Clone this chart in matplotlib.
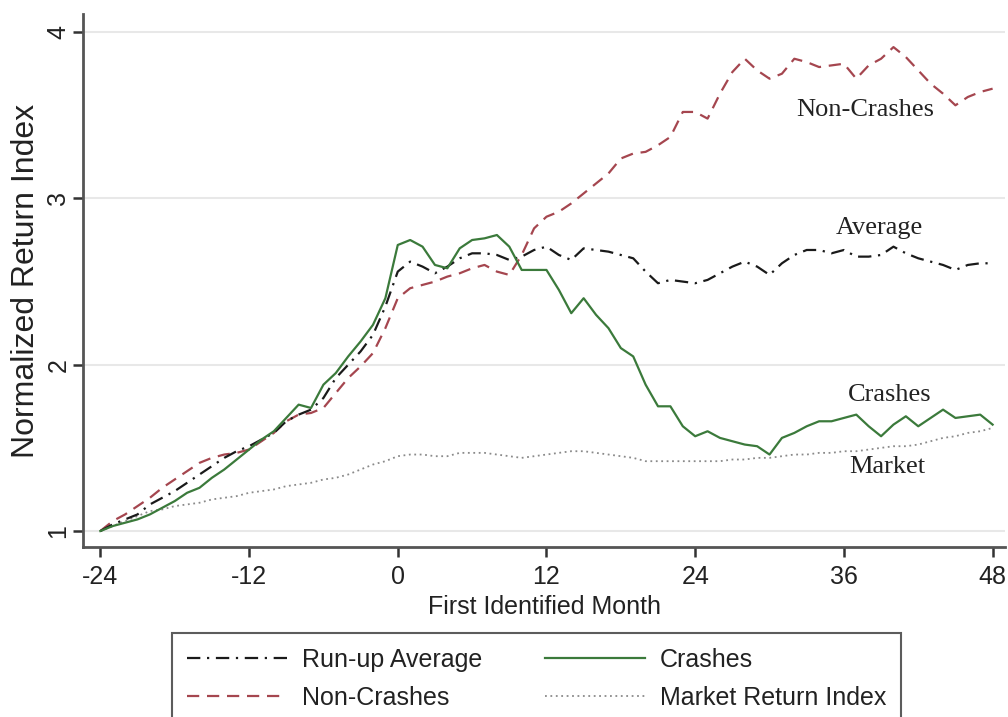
import matplotlib.pyplot as plt

months = list(range(-24, 49))

runup_average = [1.00, 1.04, 1.07, 1.10, 1.16, 1.20, 1.24, 1.29, 1.34, 1.39, 1.44, 1.48,
                 1.51, 1.55, 1.59, 1.66, 1.70, 1.73, 1.80, 1.92, 2.00, 2.08, 2.18, 2.35,
                 2.56, 2.62, 2.59, 2.55, 2.59, 2.64, 2.67, 2.67, 2.66, 2.63, 2.65, 2.69,
                 2.71, 2.66, 2.63, 2.70, 2.69, 2.68, 2.66, 2.64, 2.56, 2.49, 2.51, 2.50,
                 2.49, 2.51, 2.55, 2.59, 2.62, 2.59, 2.54, 2.61, 2.66, 2.69, 2.69, 2.67,
                 2.69, 2.65, 2.65, 2.66, 2.71, 2.67, 2.64, 2.62, 2.60, 2.57, 2.60, 2.61, 2.61]

non_crashes = [1.00, 1.06, 1.10, 1.15, 1.20, 1.26, 1.31, 1.36, 1.41, 1.44, 1.46, 1.47,
               1.49, 1.54, 1.59, 1.66, 1.70, 1.71, 1.74, 1.83, 1.92, 1.99, 2.07, 2.22,
               2.40, 2.46, 2.48, 2.50, 2.53, 2.55, 2.58, 2.60, 2.56, 2.54, 2.66, 2.82,
               2.89, 2.92, 2.97, 3.03, 3.09, 3.15, 3.24, 3.27, 3.28, 3.32, 3.37, 3.52,
               3.52, 3.48, 3.63, 3.76, 3.84, 3.77, 3.72, 3.75, 3.84, 3.82, 3.79, 3.80,
               3.81, 3.72, 3.80, 3.84, 3.91, 3.85, 3.77, 3.69, 3.63, 3.56, 3.61, 3.64, 3.66]

crashes = [1.00, 1.03, 1.05, 1.07, 1.10, 1.14, 1.18, 1.23, 1.26, 1.32, 1.37, 1.43,
           1.49, 1.55, 1.60, 1.68, 1.76, 1.74, 1.88, 1.95, 2.05, 2.14, 2.24, 2.40,
           2.72, 2.75, 2.71, 2.60, 2.58, 2.70, 2.75, 2.76, 2.78, 2.71, 2.57, 2.57,
           2.57, 2.45, 2.31, 2.40, 2.30, 2.22, 2.10, 2.05, 1.88, 1.75, 1.75, 1.63,
           1.57, 1.60, 1.56, 1.54, 1.52, 1.51, 1.46, 1.56, 1.59, 1.63, 1.66, 1.66,
           1.68, 1.70, 1.63, 1.57, 1.64, 1.69, 1.63, 1.68, 1.73, 1.68, 1.69, 1.70, 1.64]

market = [1.00, 1.03, 1.06, 1.09, 1.12, 1.13, 1.15, 1.16, 1.17, 1.19, 1.20, 1.21,
          1.23, 1.24, 1.25, 1.27, 1.28, 1.29, 1.31, 1.32, 1.34, 1.37, 1.40, 1.42,
          1.45, 1.46, 1.46, 1.45, 1.45, 1.47, 1.47, 1.47, 1.46, 1.45, 1.44, 1.45,
          1.46, 1.47, 1.48, 1.48, 1.47, 1.46, 1.45, 1.44, 1.42, 1.42, 1.42, 1.42,
          1.42, 1.42, 1.42, 1.43, 1.43, 1.44, 1.44, 1.45, 1.46, 1.46, 1.47, 1.47,
          1.48, 1.48, 1.49, 1.50, 1.51, 1.51, 1.52, 1.54, 1.56, 1.57, 1.59, 1.60, 1.62]

x_ticks = [-24, -12, 0, 12, 24, 36, 48]
y_ticks = [1, 2, 3, 4]

# in-plot labels: text, x, y
notes = [("Non-Crashes", 37.7, 3.53),
         ("Average", 38.9, 2.82),
         ("Crashes", 39.7, 1.82),
         ("Market", 39.5, 1.385)]

plt.rcParams['font.family'] = ['Liberation Sans', 'DejaVu Sans']
plt.rcParams['axes.unicode_minus'] = False

fig = plt.figure(figsize=(10.08, 7.17), dpi=100)
ax = fig.add_axes([83/1008, 1-547/717, (1005-83)/1008, (547-14)/717])

for yv in y_ticks:
    ax.axhline(yv, color="#e8e8e8", linewidth=1.5, zorder=0)

ax.plot(months, market, color="#8a8a8a", linewidth=1.3, linestyle=(0, (1, 2)),
        label="Market Return Index")
ax.plot(months, non_crashes, color="#a5464f", linewidth=1.6, linestyle=(0, (5.5, 3.5)),
        label="Non-Crashes")
ax.plot(months, runup_average, color="#1a1a1a", linewidth=1.6, linestyle=(0, (6, 3, 1, 3)),
        label="Run-up Average")
ax.plot(months, crashes, color="#3b7a3b", linewidth=1.6, linestyle="-",
        label="Crashes")

for txt, xv, yv in notes:
    ax.text(xv, yv, txt, ha="center", va="center", fontsize=19,
            family=["Liberation Serif", "DejaVu Serif"], color="#222222")

ax.set_xlim(-25.4, 49)
ax.set_ylim(0.904, 4.109)
ax.set_xticks(x_ticks)
ax.set_yticks(y_ticks)
ax.set_yticklabels([str(v) for v in y_ticks], rotation=90, va="center")
ax.tick_params(axis="both", labelsize=18, colors="#333333", width=1.8, length=7)
ax.tick_params(axis="x", labelcolor="#222222", pad=6)
ax.tick_params(axis="y", labelcolor="#222222", pad=2)

for s in ["top", "right"]:
    ax.spines[s].set_visible(False)
for s in ["left", "bottom"]:
    ax.spines[s].set_color("#555555")
    ax.spines[s].set_linewidth(2)

ax.set_xlabel("First Identified Month", fontsize=18, color="#222222", labelpad=4)
ax.set_ylabel("Normalized Return Index", fontsize=23, color="#222222", labelpad=4)

h, l = ax.get_legend_handles_labels()
order = [2, 1, 3, 0]
leg = fig.legend([h[i] for i in order], [l[i] for i in order], ncol=2,
                 loc="upper left", bbox_to_anchor=(172/1008, 1-633/717), borderaxespad=0,
                 fontsize=18, handlelength=4, handletextpad=0.6, columnspacing=2.5,
                 labelspacing=0.55, borderpad=0.6, fancybox=False, frameon=True)
leg.get_frame().set_edgecolor("#333333")
leg.get_frame().set_linewidth(1.5)
for t in leg.get_texts():
    t.set_color("#222222")

fig.savefig("out.png", dpi=100, facecolor="white")
